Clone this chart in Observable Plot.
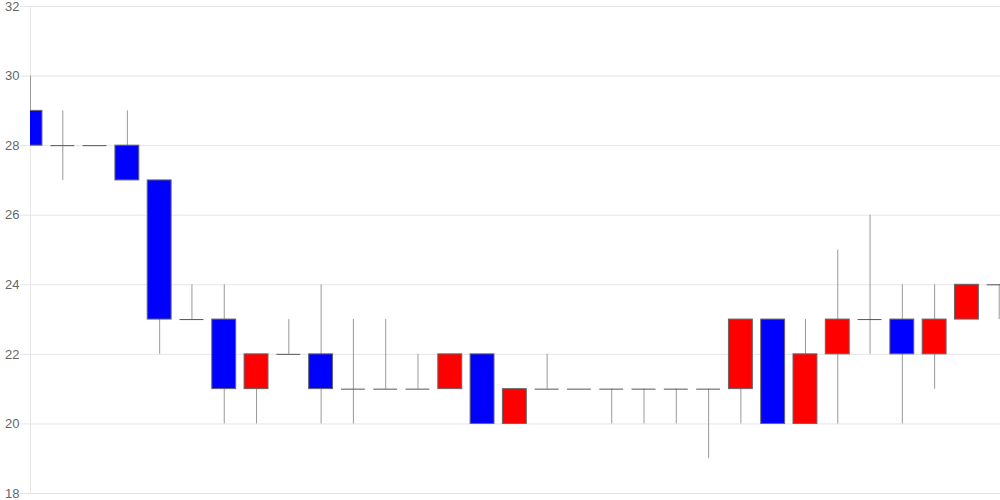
<!DOCTYPE html>
<html>
<head>
<meta charset="utf-8">
<script src="https://cdn.jsdelivr.net/npm/d3@7"></script>
<script src="https://cdn.jsdelivr.net/npm/@observablehq/plot@0.6"></script>
<style>
  html, body { margin: 0; padding: 0; background: #fff; }
  #chart { width: 1000px; height: 500px; }
</style>
</head>
<body>
<div id="chart"></div>
<script>
const openV  = [29,28,28,28,27,23,23,21,22,22,21,21,21,21,22,20,21,21,21,21,21,21,21,23,20,22,23,23,22,23,24];
const closeV = [28,28,28,27,23,23,21,22,22,21,21,21,21,22,20,21,21,21,21,21,21,21,23,20,22,23,23,22,23,24,24];
const highV  = [30,29,28,29,27,24,24,22,23,24,23,23,22,22,22,21,22,21,21,21,21,21,23,23,23,25,26,24,24,24,24];
const lowV   = [28,27,28,27,22,23,20,20,22,20,20,21,21,21,20,20,21,21,20,20,20,19,20,20,20,20,22,20,21,23,23];
const yTicks = [18,20,22,24,26,28,30,32];

const half = 0.37;
const data = openV.map((o, i) => ({
  i, open: o, close: closeV[i], high: highV[i], low: lowV[i],
  x1: i - half, x2: i + half
}));
const bodies = data.filter(d => d.open !== d.close);
const dojis = data.filter(d => d.open === d.close);
const xMax = data.length - 1 + 0.04;

const chart = Plot.plot({
  width: 1000,
  height: 500,
  marginLeft: 30,
  marginRight: 0,
  marginTop: 6,
  marginBottom: 7,
  x: {domain: [0, xMax], axis: null},
  y: {domain: [18, 32], ticks: yTicks, tickSize: 0, label: null},
  style: {fontFamily: "Liberation Sans, Arial, sans-serif", fontSize: "13px", color: "#666", background: "#fff"},
  marks: [
    Plot.ruleY(yTicks, {stroke: "#e6e6e6", strokeOpacity: 1, x1: -0.31, x2: xMax, clip: false}),
    Plot.ruleX([0], {stroke: "#e6e6e6", y1: 18, y2: 32}),
    Plot.axisY({ticks: yTicks, tickSize: 0, tickPadding: 11, fill: "#666", fontSize: 13}),
    Plot.ruleX(data, {x: "i", y1: "low", y2: "high", stroke: "#999", strokeWidth: 1, clip: true}),
    Plot.rect(bodies, {x1: "x1", x2: "x2", y1: "open", y2: "close",
      fill: d => d.close < d.open ? "#0000ff" : "#ff0000", stroke: "#666", strokeWidth: 1, clip: true}),
    Plot.ruleY(dojis, {y: "open", x1: "x1", x2: "x2", stroke: "#555", strokeWidth: 1, clip: true})
  ]
});
document.getElementById("chart").appendChild(chart);
</script>
</body>
</html>
